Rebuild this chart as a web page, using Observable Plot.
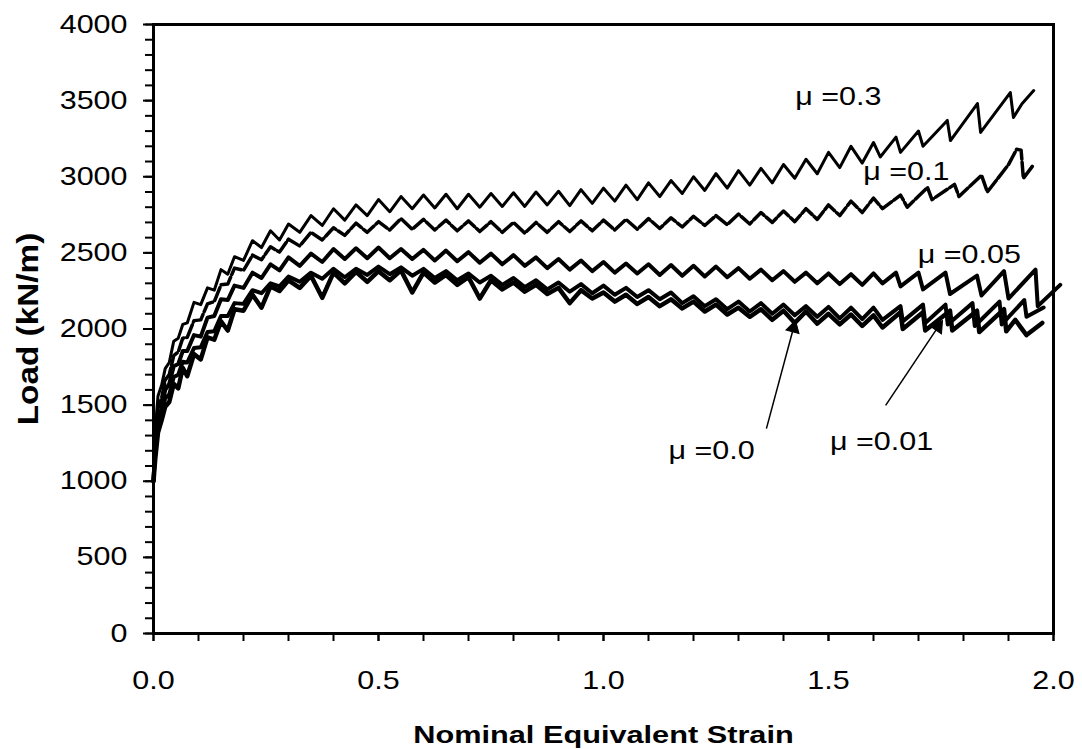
<!DOCTYPE html>
<html><head><meta charset="utf-8">
<script src="https://cdn.jsdelivr.net/npm/d3@7"></script>
<script src="https://cdn.jsdelivr.net/npm/@observablehq/plot@0.6"></script>
<style>
html,body{margin:0;padding:0;background:#fff}
#chart svg{display:block}
</style>
</head><body><div id="chart"></div>
<script>
// ---- shared strain grid (0 .. 1.6)
const strain = [0,0.004,0.01,0.018,0.026,0.035,0.045,0.055,0.065,0.075,0.09,0.105,0.12,0.135,0.15,0.165,0.18,0.2,0.22,0.24,0.26,0.28,0.3,0.325,0.35,0.375,0.4,0.425,0.45,0.475,0.5,0.525,0.55,0.575,0.6,0.625,0.65,0.675,0.7,0.725,0.75,0.775,0.8,0.825,0.85,0.875,0.9,0.925,0.95,0.975,1.0,1.025,1.05,1.075,1.1,1.125,1.15,1.175,1.2,1.225,1.25,1.275,1.3,1.325,1.35,1.375,1.4,1.425,1.45,1.475,1.5,1.525,1.55,1.575,1.6];

// ---- loads (kN/m) on the shared grid
const loadMu03 = [1000,1340,1560,1630,1740,1780,1920,1940,2030,2040,2175,2160,2270,2255,2390,2360,2475,2450,2580,2535,2645,2585,2690,2635,2745,2680,2790,2715,2815,2745,2850,2770,2870,2790,2880,2795,2885,2790,2885,2800,2890,2805,2895,2805,2900,2815,2905,2810,2915,2825,2925,2840,2945,2850,2960,2870,2975,2890,3000,2910,3020,2925,3040,2945,3055,2960,3080,2990,3115,3020,3160,3060,3200,3090,3225];
const loadMu01 = [1000,1300,1480,1545,1665,1700,1825,1850,1940,1945,2055,2060,2165,2180,2290,2295,2400,2385,2485,2455,2540,2505,2590,2545,2635,2585,2665,2615,2695,2635,2705,2650,2725,2655,2720,2650,2715,2645,2710,2640,2705,2635,2700,2630,2700,2635,2705,2640,2710,2645,2715,2650,2720,2655,2725,2660,2730,2670,2740,2680,2745,2685,2755,2690,2765,2700,2775,2705,2790,2720,2815,2745,2840,2765,2860];
const loadMu005 = [1000,1250,1400,1480,1600,1640,1755,1770,1855,1855,1960,1950,2075,2085,2195,2190,2285,2270,2370,2335,2425,2385,2470,2415,2495,2440,2525,2460,2530,2465,2535,2465,2525,2460,2520,2450,2515,2445,2505,2435,2495,2425,2485,2415,2470,2400,2460,2390,2450,2380,2440,2370,2430,2365,2425,2355,2420,2350,2415,2345,2410,2340,2400,2330,2390,2320,2380,2310,2370,2300,2365,2295,2360,2290,2365];
const loadMu001 = [1000,1230,1380,1440,1545,1570,1685,1700,1785,1780,1875,1880,1980,1985,2085,2085,2170,2165,2255,2235,2300,2280,2345,2310,2370,2330,2395,2340,2395,2355,2410,2360,2405,2350,2395,2335,2380,2320,2365,2305,2350,2290,2335,2275,2320,2260,2305,2245,2295,2235,2285,2225,2270,2210,2255,2195,2240,2170,2215,2150,2195,2130,2180,2115,2170,2100,2160,2090,2150,2080,2145,2070,2140,2065,2140];
const loadMu000 = [1000,1150,1320,1400,1490,1520,1640,1610,1745,1690,1835,1800,1945,1930,2050,1990,2130,2120,2225,2140,2280,2250,2320,2270,2350,2205,2370,2300,2375,2310,2380,2320,2385,2240,2370,2305,2355,2290,2340,2200,2320,2260,2305,2245,2290,2230,2270,2170,2255,2200,2240,2180,2225,2165,2210,2150,2195,2135,2180,2115,2160,2095,2140,2080,2130,2060,2120,2040,2115,2035,2100,2030,2095,2020,2090];

// ---- tails (strain > 1.6), each curve its own
const tailStrainMu03 = [1.615,1.65,1.66,1.70,1.71,1.764,1.771,1.831,1.838,1.904,1.911,1.93,1.956];
const tailLoadMu03   = [3130,3260,3160,3300,3200,3370,3238,3481,3291,3553,3389,3480,3566];
const tailStrainMu01 = [1.62,1.66,1.675,1.72,1.73,1.78,1.79,1.84,1.853,1.90,1.918,1.928,1.933,1.956];
const tailLoadMu01   = [2790,2880,2800,2930,2850,2950,2870,3010,2900,3080,3180,3175,2990,3080];
const tailStrainMu005 = [1.62,1.65,1.66,1.70,1.71,1.76,1.77,1.83,1.84,1.89,1.90,1.96,1.965,2.015];
const tailLoadMu005   = [2300,2370,2280,2370,2260,2370,2230,2350,2220,2380,2200,2390,2150,2290];
const tailStrainMu001 = [1.62,1.66,1.665,1.71,1.715,1.76,1.765,1.82,1.825,1.88,1.885,1.935,1.94,1.978];
const tailLoadMu001   = [2060,2150,2050,2160,2040,2160,2030,2170,2020,2180,2030,2190,2080,2141];
const tailStrainMu000 = [1.62,1.66,1.665,1.71,1.715,1.77,1.775,1.83,1.835,1.89,1.895,1.915,1.94,1.975];
const tailLoadMu000   = [2010,2110,2000,2110,1990,2120,1990,2120,1980,2130,1985,2060,1960,2040];

// ---- annotations
const labelText = ["μ =0.3","μ =0.1","μ =0.05","μ =0.0","μ =0.01"];
const labelX = [1.522,1.673,1.813,1.24,1.618];
const labelY = [3527,3034,2483,1202,1255];
const arrowTailX = [1.362,1.627];
const arrowTailY = [1346,1498];
const arrowHeadX = [1.4222,1.7436];
const arrowHeadY = [2007,2014];
const arrowAngle = [15,34.5];

// ---- axes
const xMajor = [0,0.5,1.0,1.5,2.0];
const xTickLabels = ["0.0","0.5","1.0","1.5","2.0"];
const xMinor = [0,0.1,0.2,0.3,0.4,0.5,0.6,0.7,0.8,0.9,1.0,1.1,1.2,1.3,1.4,1.5,1.6,1.7,1.8,1.9,2.0];
const yMajor = [0,500,1000,1500,2000,2500,3000,3500,4000];
const yTickLabels = ["0","500","1000","1500","2000","2500","3000","3500","4000"];
const yMinor = d3.range(0, 4001, 100);
const xTitle = "Nominal Equivalent Strain";
const yTitle = "Load (kN/m)";

function series(xs, ys, txs, tys) {
  return xs.map((x, i) => ({x, y: ys[i]})).concat(txs.map((x, i) => ({x, y: tys[i]})));
}
const s03 = series(strain, loadMu03, tailStrainMu03, tailLoadMu03);
const s01 = series(strain, loadMu01, tailStrainMu01, tailLoadMu01);
const s005 = series(strain, loadMu005, tailStrainMu005, tailLoadMu005);
const s001 = series(strain, loadMu001, tailStrainMu001, tailLoadMu001);
const s000 = series(strain, loadMu000, tailStrainMu000, tailLoadMu000);

const labels = labelText.map((t, i) => ({t, x: labelX[i], y: labelY[i]}));
const arrows = arrowTailX.map((x1, i) => ({x1, y1: arrowTailY[i], x2: arrowHeadX[i], y2: arrowHeadY[i], a: arrowAngle[i]}));

const chart = Plot.plot({
  width: 1082,
  height: 749,
  marginLeft: 153,
  marginRight: 29,
  marginTop: 24,
  marginBottom: 116,
  x: {domain: [0, 2]},
  y: {domain: [0, 4000]},
  style: {fontFamily: "'Liberation Sans', Arial, sans-serif", fontSize: "25px", background: "#fff", color: "#000"},
  marks: [
    Plot.axisX(xMinor, {tickSize: 8, tickFormat: () => "", label: null, strokeWidth: 2}),
    Plot.axisX(xMajor, {tickSize: 8, tickPadding: 30, fontSize: 25, tickFormat: d => xTickLabels[xMajor.indexOf(d)], label: null, strokeWidth: 2}),
    Plot.axisY(yMinor, {tickSize: 8, tickFormat: () => "", label: null, strokeWidth: 2}),
    Plot.axisY(yMajor, {tickSize: 10, tickPadding: 16, fontSize: 25, tickFormat: d => yTickLabels[yMajor.indexOf(d)], label: null, strokeWidth: 2}),
    Plot.frame({stroke: "#000", strokeWidth: 3}),
    Plot.line(s03, {x: "x", y: "y", stroke: "#000", strokeWidth: 3}),
    Plot.line(s01, {x: "x", y: "y", stroke: "#000", strokeWidth: 3.5, strokeDasharray: "14,3"}),
    Plot.line(s005, {x: "x", y: "y", stroke: "#000", strokeWidth: 4}),
    Plot.line(s001, {x: "x", y: "y", stroke: "#000", strokeWidth: 4}),
    Plot.line(s000, {x: "x", y: "y", stroke: "#000", strokeWidth: 4.5}),
    Plot.link(arrows, {x1: "x1", y1: "y1", x2: "x2", y2: "y2", stroke: "#000", strokeWidth: 1.5}),
    Plot.dot(arrows, {x: "x2", y: "y2", symbol: "triangle", r: 5, fill: "#000", stroke: "#000", strokeWidth: 1, rotate: "a"}),
    Plot.text(labels, {x: "x", y: "y", text: "t", fontSize: 25, fill: "#000", lineAnchor: "middle", textAnchor: "middle"}),
    Plot.text([xTitle], {text: d => d, frameAnchor: "bottom", dy: 102, fontSize: 24, fontWeight: "bold", fill: "#000", lineAnchor: "middle", textAnchor: "middle"}),
    Plot.text([yTitle], {text: d => d, frameAnchor: "left", dx: -125, rotate: -90, fontSize: 24, fontWeight: "bold", fill: "#000", lineAnchor: "middle", textAnchor: "middle"})
  ]
});

// widen glyphs horizontally like the reference typesetting (keeps Plot's anchors)
chart.querySelectorAll("text").forEach(t => {
  const tr = t.getAttribute("transform") || "";
  const s = t.textContent === yTitle ? "scale(1.39,1.25)" : (t.textContent === xTitle ? "scale(1.28,1)" : "scale(1.22,1)");
  t.setAttribute("transform", `${tr} ${s}`);
});

document.getElementById("chart").appendChild(chart);
</script>
</body></html>
